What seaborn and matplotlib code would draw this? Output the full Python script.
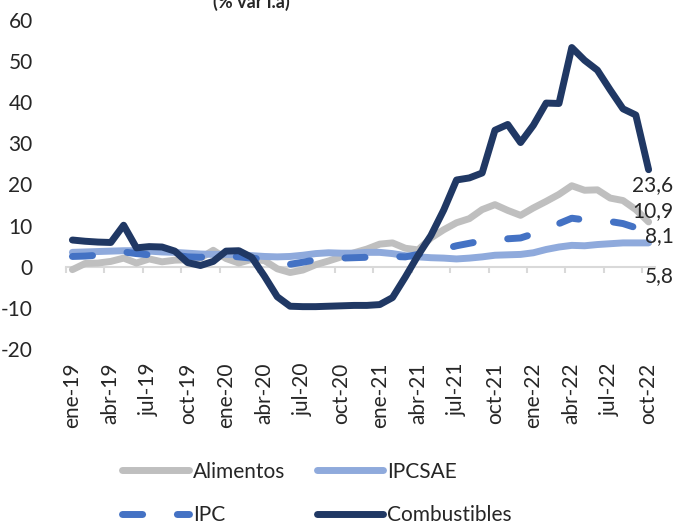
import numpy as np
import pandas as pd
import seaborn as sns
import matplotlib.pyplot as plt

# meses ene-19 .. oct-22
meses_abr = ['ene', 'feb', 'mar', 'abr', 'may', 'jun', 'jul', 'ago', 'sep', 'oct', 'nov', 'dic']
meses = [m + '-' + a for a in ['19', '20', '21', '22'] for m in meses_abr][:46]

alimentos = [-0.7, 0.8, 0.9, 1.3, 2.1, 0.9, 1.9, 1.2, 1.6, 1.7, 2.1, 4.0,
             2.0, 0.9, 1.8, 1.5, -0.5, -1.4, -0.8, 0.5, 1.4, 2.4, 3.4, 4.3,
             5.5, 5.8, 4.5, 4.1, 7.0, 9.0, 10.7, 11.7, 13.9, 15.1, 13.7, 12.5,
             14.3, 15.9, 17.6, 19.7, 18.6, 18.7, 16.7, 16.1, 13.9, 10.9]
ipcsae = [3.5, 3.6, 3.7, 3.8, 3.9, 3.9, 3.8, 3.6, 3.5, 3.3, 3.1, 3.0,
          3.0, 2.9, 2.7, 2.5, 2.4, 2.5, 2.8, 3.2, 3.4, 3.3, 3.3, 3.5,
          3.5, 3.2, 2.7, 2.4, 2.2, 2.1, 1.9, 2.1, 2.4, 2.8, 2.9, 3.0,
          3.4, 4.2, 4.8, 5.2, 5.1, 5.4, 5.6, 5.8, 5.8, 5.8]
ipc = [2.5, 2.6, 2.8, 3.0, 3.6, 3.2, 2.9, 2.9, 2.8, 2.4, 2.3, 2.7,
       2.7, 2.4, 2.1, 1.8, 1.3, 0.6, 1.1, 1.7, 1.9, 2.1, 2.2, 2.3,
       2.4, 2.5, 2.4, 3.0, 3.5, 4.3, 5.1, 5.7, 6.3, 6.5, 6.8, 7.0,
       8.0, 9.0, 10.5, 11.8, 11.4, 11.3, 11.0, 10.5, 9.5, 8.1]
combustibles = [6.5, 6.2, 6.0, 5.9, 10.1, 4.6, 4.9, 4.8, 3.8, 1.0, 0.3, 1.3,
                3.8, 3.9, 2.3, -2.3, -7.3, -9.6, -9.7, -9.7, -9.6, -9.5, -9.4, -9.4,
                -9.2, -7.5, -2.5, 2.8, 7.6, 13.8, 21.1, 21.6, 22.8, 33.2, 34.6, 30.2,
                34.4, 39.8, 39.7, 53.3, 50.2, 47.8, 43.0, 38.4, 36.9, 23.6]

series = ['Alimentos', 'IPCSAE', 'IPC', 'Combustibles']
colores = ['#BFBFBF', '#8FAADC', '#4472C4', '#203864']
etiquetas = ['10,9', '5,8', '8,1', '23,6']
desplaz = [7.6, -24.0, -2.2, -10.8]  # desplazamiento vertical de las etiquetas (pt)

df = pd.DataFrame({'mes': meses, 'Alimentos': alimentos, 'IPCSAE': ipcsae,
                   'IPC': ipc, 'Combustibles': combustibles})
df['t'] = np.arange(len(df))
largo = df.melt(id_vars=['mes', 't'], var_name='serie', value_name='valor')

sns.set_style('white')
plt.rcParams['font.family'] = ['Lato', 'DejaVu Sans']
plt.rcParams['axes.unicode_minus'] = False

fig = plt.figure(figsize=(6.82, 5.27), dpi=100)
ax = fig.add_axes([66 / 682, 1 - 349 / 527, 589 / 682, 329 / 527])

sns.lineplot(data=largo, x='t', y='valor', hue='serie', style='serie',
             hue_order=series, style_order=series, palette=colores,
             dashes={'Alimentos': '', 'IPCSAE': '', 'IPC': (2.9, 5.0), 'Combustibles': ''},
             linewidth=5, ax=ax, legend=False)
for ln in ax.lines:
    ln.set_solid_capstyle('round')
    ln.set_dash_capstyle('round')
    ln.set_solid_joinstyle('round')

ax.set_xlim(-0.5, 45.5)
ax.set_ylim(-20, 60)
ax.set_yticks(range(-20, 61, 10))
ax.set_xticks(range(0, 46, 3))
ax.set_xticklabels(meses[::3], rotation=90)
ax.tick_params(axis='y', length=0, pad=24, labelsize=15)
ax.tick_params(axis='x', length=0, pad=10, labelsize=15)
ax.set_xlabel('')
ax.set_ylabel('')
for s in ax.spines.values():
    s.set_visible(False)

# eje de categorias en y=0
eje = ax.secondary_xaxis(0.25)
eje.set_xticks(np.arange(-0.5, 46, 3))
eje.tick_params(axis='x', length=4, width=1.5, color='#D9D9D9', labelbottom=False)
eje.spines['bottom'].set_color('#D9D9D9')
eje.spines['bottom'].set_linewidth(1.5)

# etiquetas finales
for nombre, etq, dy in zip(series, etiquetas, desplaz):
    ax.annotate(etq, xy=(df['t'].iloc[-1], df[nombre].iloc[-1]), xytext=(18, dy),
                textcoords='offset points', ha='right', va='center', fontsize=15)

lineas = ax.lines
orden = [0, 2, 1, 3]
fig.legend([lineas[i] for i in orden], [series[i] for i in orden], ncol=2,
           loc='center', bbox_to_anchor=(317 / 682, 1 - 493.5 / 527),
           frameon=False, fontsize=15, handlelength=3.2, handletextpad=0.2,
           columnspacing=1.5, labelspacing=1.15, borderpad=0)

fig.text(251 / 682, 1 - 8 / 527, '(% var i.a)', ha='center', va='baseline',
         fontweight='bold', fontsize=13)

fig.savefig('out.png', dpi=100)
